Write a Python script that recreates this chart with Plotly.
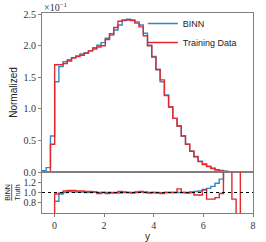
import numpy as np
import plotly.graph_objects as go
from plotly.subplots import make_subplots

# bin edges of the histogram (50 bins over [-0.5, 8.0])
bin_edges = list(np.linspace(-0.5, 8.0, 51))

# normalized histogram values (in units of 1e-1)
truth_vals = [0.0, 0.0, 0.44, 1.70, 1.70, 1.72, 1.76, 1.81, 1.83, 1.85,
              1.88, 1.92, 1.95, 1.98, 2.00, 2.10, 2.19, 2.29, 2.39, 2.41,
              2.41, 2.40, 2.36, 2.30, 2.16, 2.00, 1.82, 1.62, 1.46, 1.21,
              1.03, 0.85, 0.73, 0.57, 0.44, 0.33, 0.24, 0.165, 0.12, 0.085,
              0.055, 0.032, 0.018, 0.009, 0.004, 0.0015, 0.0005, 0.0002, 0.0, 0.0]
binn_vals = [0.02, 0.07, 0.57, 1.43, 1.67, 1.75, 1.78, 1.81, 1.84, 1.87,
             1.89, 1.92, 1.97, 2.01, 2.05, 2.12, 2.17, 2.25, 2.33, 2.40,
             2.42, 2.41, 2.38, 2.33, 2.20, 2.01, 1.83, 1.63, 1.43, 1.22,
             1.03, 0.85, 0.73, 0.57, 0.44, 0.33, 0.245, 0.17, 0.126, 0.092,
             0.062, 0.038, 0.023, 0.012, 0.0, 0.0, 0.0, 0.0, 0.0, 0.0]

# ratio panel values
ratio_binn = [None, None, None, 0.83, 0.97, 1.00, 1.02, 1.01, 1.01, 1.01,
              1.00, 1.00, 1.01, 1.00, 1.00, 1.00, 0.99, 0.99, 0.99, 1.00,
              1.00, 1.00, 1.00, 1.01, 1.01, 1.00, 1.00, 1.00, 0.99, 1.00,
              1.00, 1.00, 1.00, 1.00, 1.00, 1.01, 1.02, 1.03, 1.05, 1.08,
              1.12, 1.18, 1.26, 1.60, None, None, None, None, None, None]
ratio_truth = [None, None, 0.30, 0.97, 0.99, 1.03, 1.04, 1.04, 1.03, 1.03,
               1.02, 1.02, 1.01, 0.98, 1.00, 0.98, 1.00, 1.00, 1.02, 1.01,
               1.00, 0.99, 1.01, 1.02, 1.00, 0.99, 1.00, 0.99, 0.98, 1.00,
               1.00, 1.00, 1.07, 1.00, 0.99, 1.00, 0.95, 0.95, 1.06, 0.87,
               0.87, 0.90, 0.98, 2.00, 2.00, 0.87, 0.30, 2.00, None, None]

x_ticks = [0, 2, 4, 6, 8]
main_y_ticks = [0.0, 0.5, 1.0, 1.5, 2.0, 2.5]
ratio_y_ticks = [0.8, 1.0, 1.2]

BLUE = "#3787c0"
RED = "#e3282f"
GRAY = "#808080"
SERIF = "Liberation Serif"
SANS = "Liberation Sans"


def step(vals):
    return bin_edges, list(vals) + [vals[-1]]


fig = make_subplots(rows=2, cols=1, shared_xaxes=True,
                    row_heights=[0.795, 0.205], vertical_spacing=0.0)

bx, by = step(binn_vals)
tx, ty = step(truth_vals)
fig.add_trace(go.Scatter(x=bx, y=by, mode="lines", line_shape="hv",
                         line=dict(color=BLUE, width=1.4), name="BINN"), row=1, col=1)
fig.add_trace(go.Scatter(x=tx, y=ty, mode="lines", line_shape="hv",
                         line=dict(color=RED, width=1.4), name="Training Data"), row=1, col=1)

rbx, rby = step(ratio_binn)
rtx, rty = step(ratio_truth)
fig.add_trace(go.Scatter(x=rbx, y=rby, mode="lines", line_shape="hv",
                         line=dict(color=BLUE, width=1.4), showlegend=False), row=2, col=1)
fig.add_trace(go.Scatter(x=rtx, y=rty, mode="lines", line_shape="hv",
                         line=dict(color=RED, width=1.4), showlegend=False), row=2, col=1)

fig.add_shape(type="line", xref="x2 domain", yref="y2", x0=0, x1=1, y0=1.0, y1=1.0,
              line=dict(color="black", width=1, dash="dot"))

axis_common = dict(showline=True, mirror=True, linecolor=GRAY, linewidth=1,
                   showgrid=False, zeroline=False, ticks="outside", ticklen=3,
                   tickcolor=GRAY, automargin=False,
                   tickfont=dict(family=SERIF, size=10, color="#333"))

fig.update_xaxes(range=[-0.5, 8.0], tickvals=x_ticks, **axis_common)
fig.update_xaxes(showticklabels=False, ticks="", row=1, col=1)
fig.update_xaxes(title=dict(text="y", font=dict(family=SANS, size=10, color="#222"), standoff=2),
                 row=2, col=1)
fig.update_yaxes(range=[0, 2.52], tickvals=main_y_ticks, tickformat=".1f",
                 title=dict(text="Normalized", font=dict(family=SANS, size=10, color="#222"),
                            standoff=4),
                 row=1, col=1, **axis_common)
fig.update_yaxes(range=[0.6, 1.4], tickvals=ratio_y_ticks, tickformat=".1f",
                 title=dict(text="<u>BINN</u><br>Truth", font=dict(family=SANS, size=7, color="#222"),
                            standoff=2),
                 row=2, col=1, **axis_common)

fig.add_annotation(xref="paper", yref="paper", x=0, y=1.0, xanchor="left", yanchor="bottom",
                   text="×10<sup>−1</sup>", showarrow=False,
                   font=dict(family=SERIF, size=10, color="#333"), yshift=-2)

fig.update_layout(
    width=266, height=242,
    margin=dict(l=42, r=13, t=13, b=29, autoexpand=False),
    plot_bgcolor="white", paper_bgcolor="white",
    legend=dict(x=0.478, y=1.02, xanchor="left", yanchor="top",
                font=dict(family=SANS, size=9, color="#222"),
                bgcolor="rgba(0,0,0,0)", tracegroupgap=0, itemwidth=30),
    showlegend=True,
)

fig.write_html("out.html", config={"displayModeBar": False},
               post_script="document.body.style.margin='0';document.body.style.overflow='hidden';")
